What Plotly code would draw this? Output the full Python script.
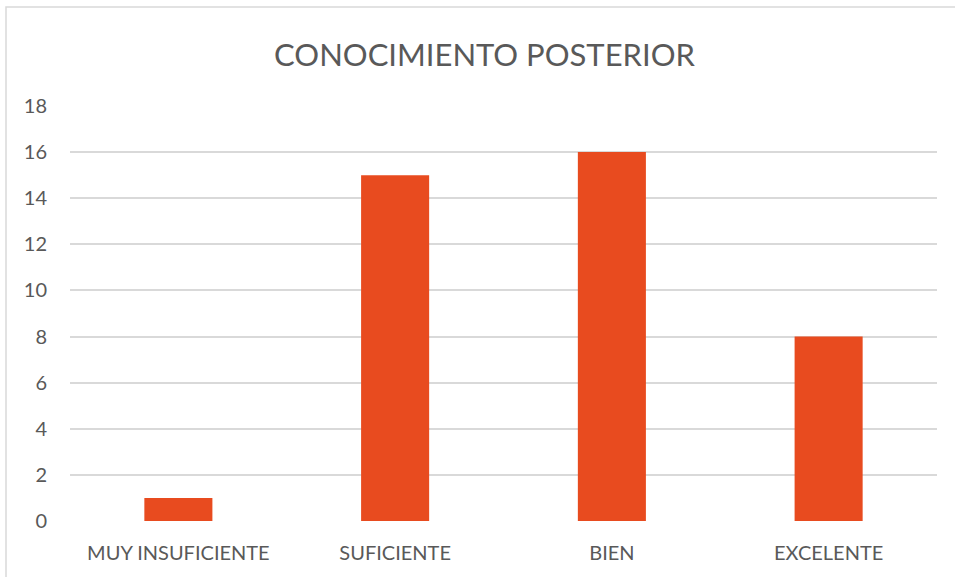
import plotly.graph_objects as go

categories = ["MUY INSUFICIENTE", "SUFICIENTE", "BIEN", "EXCELENTE"]
values = [1, 15, 16, 8]
y_ticks = [0, 2, 4, 6, 8, 10, 12, 14, 16, 18]
title_text = "CONOCIMIENTO POSTERIOR"

W, H = 955, 577
ml, mr, mt, mb = 70, 18, 106, 56
pw, ph = W - ml - mr, H - mt - mb

fig = go.Figure(go.Bar(
    x=categories, y=values,
    marker=dict(color="#E84B1F", line=dict(width=0)),
    width=0.314,
))

bx0 = (6 - ml) / pw
by1 = 1 + (mt - 7) / ph
fig.update_layout(
    width=W, height=H,
    margin=dict(l=ml, r=mr, t=mt, b=mb),
    paper_bgcolor="white", plot_bgcolor="white",
    font=dict(family="Lato, Carlito, sans-serif", color="#595959", size=20),
    title=dict(text=title_text, x=(484.5 - ml) / pw, xanchor="center", xref="paper",
               y=1 - 55 / H, yanchor="middle",
               font=dict(size=31, color="#595959")),
    showlegend=False,
    xaxis=dict(showgrid=False, showline=False, ticks="", zeroline=False,
               ticklabelstandoff=18,
               tickfont=dict(size=20, color="#595959")),
    yaxis=dict(range=[0, 18], tickvals=y_ticks, showgrid=True,
               gridcolor="#D9D9D9", gridwidth=1.5, zeroline=False,
               showline=False, ticks="", ticklabelstandoff=22,
               tickfont=dict(size=20, color="#595959")),
    shapes=[dict(type="rect", xref="paper", yref="paper",
                 x0=bx0, x1=1 + (mr + 20) / pw, y0=-(mb + 20) / ph, y1=by1,
                 line=dict(color="#D9D9D9", width=1.5), layer="below")],
)

fig.write_html("out.html",
               config={"displayModeBar": False},
               post_script="document.body.style.margin='0px';document.body.style.overflow='hidden';")
